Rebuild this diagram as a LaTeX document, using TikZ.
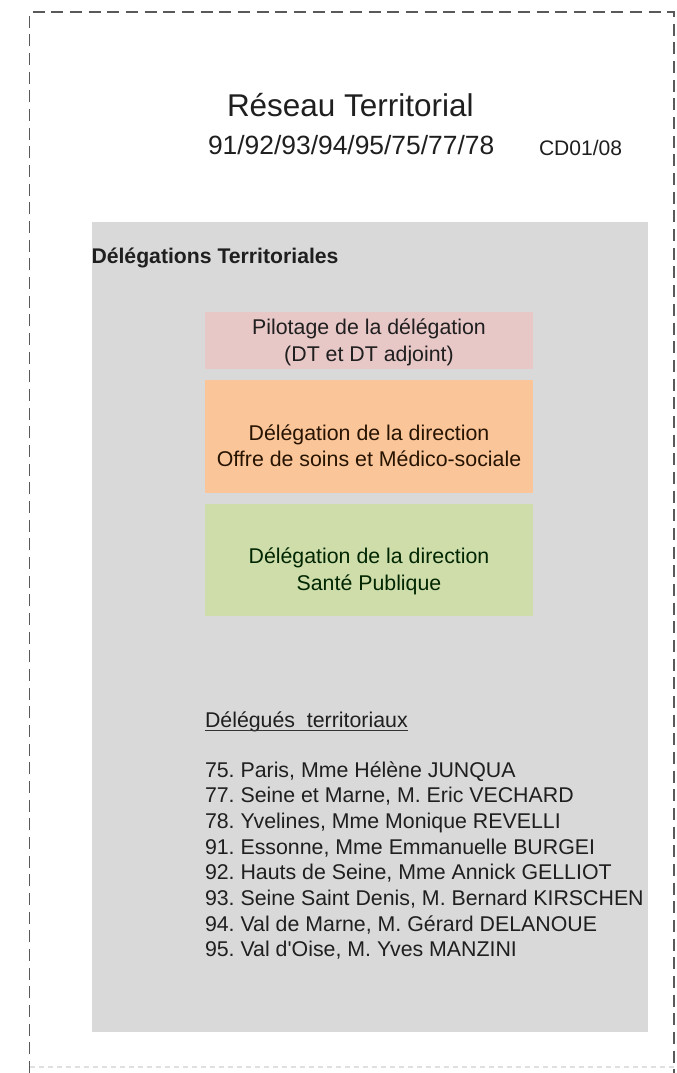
\documentclass[tikz,border=0pt]{standalone}
\usepackage{fontspec}
\setmainfont{Liberation Sans}
\frenchspacing
\begin{document}
\begin{tikzpicture}[x=0.75pt,y=-0.75pt,
  txt/.style={inner sep=0pt,outer sep=0pt,text=black!88},
  base/.style={txt,font=\fontsize{16}{19.3}\selectfont},
  band/.style={draw=none,inner sep=0pt,outer sep=0pt,anchor=north west},
  frame/.style={draw=black!65,line width=1.35pt,dash pattern=on 9pt off 5pt}]
\definecolor{panelgray}{RGB}{217,217,217}
\definecolor{pinkband}{RGB}{232,199,199}
\definecolor{orangeband}{RGB}{250,197,153}
\definecolor{greenband}{RGB}{207,221,171}
\useasboundingbox (0,0) rectangle (677,1073);
\fill[white] (0,0) rectangle (677,1073);
% dashed frame
\coordinate (fbl) at (29.5,1073);
\coordinate (ftl) at (29.5,12);
\coordinate (ftr) at (674,12);
\coordinate (fbr) at (674,1073);
\draw[frame] (fbl) -- (ftl) -- (ftr) -- (fbr);
\coordinate (bl) at (29.5,1067);
\coordinate (br) at (674,1067);
\draw[draw=black!12,line width=0.9pt,dash pattern=on 3.75pt off 3pt] (bl) -- (br);
% title
\node[txt,anchor=base west,font=\fontsize{23.6}{28}\selectfont] (title) at (227,117) {Réseau Territorial};
\node[txt,anchor=base west,font=\fontsize{19.8}{24}\selectfont] (nums) at (208,155) {91/92/93/94/95/75/77/78};
\node[txt,anchor=base west,font=\fontsize{15.8}{19}\selectfont] (cd) at (539,156) {CD01/08};
% gray panel
\node[band,fill=panelgray,minimum width=417pt,minimum height=607.5pt] (panel) at (91.5,222) {};
\node[base,anchor=base west,font=\fontsize{15.9}{19}\selectfont\bfseries] (dt) at (91.5,263) {Délégations Territoriales};
% bands
\node[band,fill=pinkband,minimum width=246pt,minimum height=42.75pt] (pink) at (205,312) {};
\node[band,fill=orangeband,minimum width=246pt,minimum height=84.75pt] (orange) at (205,380) {};
\node[band,fill=greenband,minimum width=246pt,minimum height=84pt] (green) at (205,504) {};
\node[base,anchor=base] (p1) at (369,334) {Pilotage de la délégation};
\node[base,anchor=base] (p2) at (369,361) {(DT et DT adjoint)};
\node[base,anchor=base,text=black!85!orange] (o1) at (369,440) {Délégation de la direction};
\node[base,anchor=base,text=black!85!orange] (o2) at (369,466) {Offre de soins et Médico-sociale};
\node[base,anchor=base,text=black!85!green] (g1) at (369,563) {Délégation de la direction};
\node[base,anchor=base,text=black!85!green] (g2) at (369,590) {Santé Publique};
% delegates
\node[base,anchor=base west] (dl) at (205,727) {Délégués\ \ territoriaux};
\draw[black!80,line width=0.9pt] ([yshift=-2.4pt]dl.base west) -- ([yshift=-2.4pt]dl.base east);
\foreach \t [count=\i from 0] in {%
  {75. Paris, Mme Hélène JUNQUA},
  {77. Seine et Marne, M. Eric VECHARD},
  {78. Yvelines, Mme Monique REVELLI},
  {91. Essonne, Mme Emmanuelle BURGEI},
  {92. Hauts de Seine, Mme Annick GELLIOT},
  {93. Seine Saint Denis, M. Bernard KIRSCHEN},
  {94. Val de Marne, M. Gérard DELANOUE},
  {95. Val d\textquotesingle Oise, M. Yves MANZINI}}
  \node[base,anchor=base west] (d\i) at (205,777+25.7*\i) {\t};
\end{tikzpicture}
\end{document}
